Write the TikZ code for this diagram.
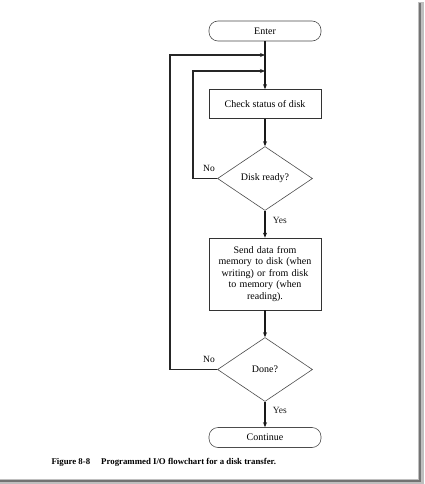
\documentclass[tikz,border=0pt]{standalone}
\usepackage{fontspec}
\setmainfont{Liberation Serif}
\usetikzlibrary{shapes.geometric,arrows.meta}
\begin{document}
\begin{tikzpicture}[x=1pt,y=-1pt,
  every node/.style={font=\fontsize{10}{11.5}\selectfont},
  term/.style={draw=black!70,line width=0.6pt,rounded corners=9pt,minimum width=112pt,minimum height=20pt,inner sep=0pt},
  procbox/.style={draw=black!80,line width=0.7pt,minimum width=112pt,inner sep=2pt,align=center},
  decision/.style={draw=black!70,line width=0.6pt,diamond,aspect=1.5,minimum width=95pt,minimum height=64pt,inner sep=0pt},
  flow/.style={line width=1.1pt,black!90},
  flowarrow/.style={flow,-{Stealth[length=5pt,width=4pt]}},
  loop/.style={line width=1.1pt,black!85},
  lbl/.style={font=\fontsize{9.5}{10}\selectfont}
]
\useasboundingbox (0,0) rectangle (424,484);
\fill[white] (0,0) rectangle (424,484);
% frame shadow
\fill[black!25] (418,2) rectangle (424,484);
\fill[black!25] (0,479) rectangle (424,484);
\fill[black!55] (419,3) rectangle (421,482);
\fill[black!55] (0,480) rectangle (421,482);

\node[term] (enter) at (265,31) {Enter};
\node[procbox,minimum height=29pt] (check) at (265,104) {Check status of disk};
\node[decision] (ready) at (265,178.5) {Disk ready?};
\node[procbox,minimum height=72pt,text width=104pt] (send) at (265,274) {Send data from\\memory to disk (when\\writing) or from disk\\to memory (when\\reading).};
\node[decision] (done) at (265,369.5) {Done?};
\node[term] (cont) at (265,437.5) {Continue};

\coordinate (m1) at (265,55);
\coordinate (m2) at (265,71);
\coordinate (o1) at (170,369.5);
\coordinate (o2) at (170,55);
\coordinate (i1) at (193,178.5);
\coordinate (i2) at (193,71);

\draw[flowarrow] (enter.south) -- (check.north);
\draw[flowarrow] (check.south) -- (ready.north);
\draw[flowarrow] (ready.south) -- (send.north) node[lbl,pos=0.35,right=4pt] {Yes};
\draw[flowarrow] (send.south) -- (done.north);
\draw[flowarrow] (done.south) -- (cont.north) node[lbl,pos=0.35,right=4pt] {Yes};

\draw[loop,-{Stealth[length=5pt,width=4pt]}] (done.west) -- (o1) -- (o2) -- (m1);
\draw[loop,-{Stealth[length=5pt,width=4pt]}] (ready.west) -- (i1) -- (i2) -- (m2);
\node[lbl,anchor=south] (no1) at (209,175) {No};
\node[lbl,anchor=south] (no2) at (209,366) {No};

\node[anchor=west,font=\bfseries\fontsize{8.8}{10}\selectfont] (cap) at (48,462) {Figure 8-8\hspace{11pt}Programmed I/O flowchart for a disk transfer.};
\end{tikzpicture}
\end{document}
